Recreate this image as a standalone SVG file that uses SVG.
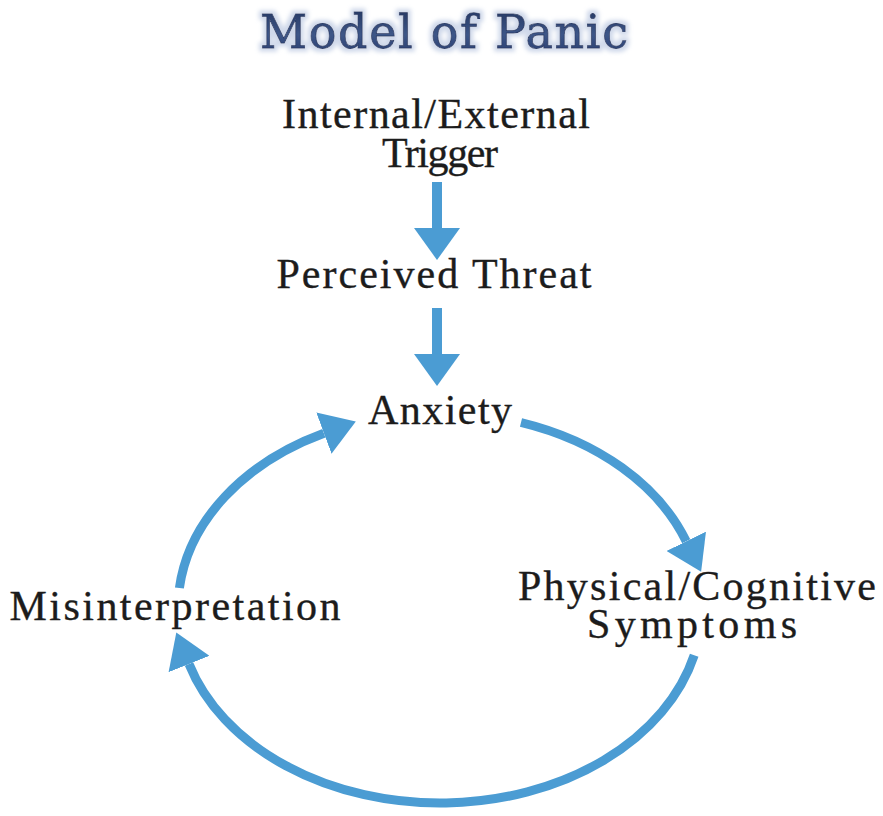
<svg xmlns="http://www.w3.org/2000/svg" width="883" height="816" viewBox="0 0 883 816">
  <style>
    .label { font-family: "Liberation Serif", "Times New Roman", serif; font-size: 42px; fill: #1c1c1c; stroke: #1c1c1c; stroke-width: 0.35; text-anchor: middle; }
    .title { font-family: "DejaVu Serif", "Liberation Serif", serif; font-size: 46px; fill: url(#titleInk); stroke: #2a3d6a; stroke-width: 0.8; text-anchor: middle; }
    .shaft { fill: none; stroke: #4b9cd3; stroke-width: 10; stroke-linecap: butt; }
    .loop { fill: none; stroke: #4b9cd3; stroke-width: 9; stroke-linecap: butt; marker-end: url(#head); }
    .head { fill: #4b9cd3; }
  </style>
  <defs>
    <linearGradient id="titleInk" x1="0" y1="0" x2="0" y2="1">
      <stop offset="0" stop-color="#22335c"/>
      <stop offset="0.55" stop-color="#3d5688"/>
      <stop offset="1" stop-color="#26396a"/>
    </linearGradient>
    <!-- soft pale halo around the heading letters -->
    <filter id="halo" x="-10%" y="-40%" width="120%" height="180%">
      <feMorphology in="SourceAlpha" operator="dilate" radius="2.5" result="grow"/>
      <feGaussianBlur in="grow" stdDeviation="2" result="soft"/>
      <feFlood flood-color="#cfd8ea"/>
      <feComposite in2="soft" operator="in" result="glow"/>
      <feMerge>
        <feMergeNode in="glow"/>
        <feMergeNode in="SourceGraphic"/>
      </feMerge>
    </filter>
    <marker id="head" markerUnits="userSpaceOnUse" viewBox="0 0 34 44" markerWidth="34" markerHeight="44" refX="0" refY="22" orient="auto">
      <path class="head" d="M0,0 L34,22 L0,44 Z"/>
    </marker>
  </defs>

  <rect width="883" height="816" fill="#ffffff"/>

  <g id="title" filter="url(#halo)">
    <text class="title" x="444" y="48" textLength="368" lengthAdjust="spacing">Model of Panic</text>
  </g>

  <g id="trigger">
    <text class="label" x="436" y="128" textLength="308" lengthAdjust="spacing">Internal/External</text>
    <text class="label" x="440" y="167" textLength="116" lengthAdjust="spacing">Trigger</text>
  </g>

  <g id="perceived-threat">
    <text class="label" x="434" y="288" textLength="315" lengthAdjust="spacing">Perceived Threat</text>
  </g>

  <g id="anxiety">
    <text class="label" x="440" y="424" textLength="144" lengthAdjust="spacing">Anxiety</text>
  </g>

  <g id="symptoms">
    <text class="label" x="697" y="600" textLength="358" lengthAdjust="spacing">Physical/Cognitive</text>
    <text class="label" x="692" y="638" textLength="210" lengthAdjust="spacing">Symptoms</text>
  </g>

  <g id="misinterpretation">
    <text class="label" x="175" y="620" textLength="331" lengthAdjust="spacing">Misinterpretation</text>
  </g>

  <g id="connectors">
    <!-- straight drops down the column -->
    <path class="shaft" d="M437,182 V229"/>
    <path class="head" d="M414,228 L460,228 L437,260 Z"/>
    <path class="shaft" d="M437,308 V355"/>
    <path class="head" d="M414,354 L460,354 L437,386 Z"/>
    <!-- the loop: one ellipse (centre 440,608; radii 262,195) split into three arcs -->
    <path class="loop" d="M521,422.5 A262,195 0 0 1 686.2,541.3"/>
    <path class="loop" d="M694.2,655.2 A262,195 0 0 1 189,664"/>
    <path class="loop" d="M179.4,588 A262,195 0 0 1 323.9,433.2"/>
  </g>
</svg>
